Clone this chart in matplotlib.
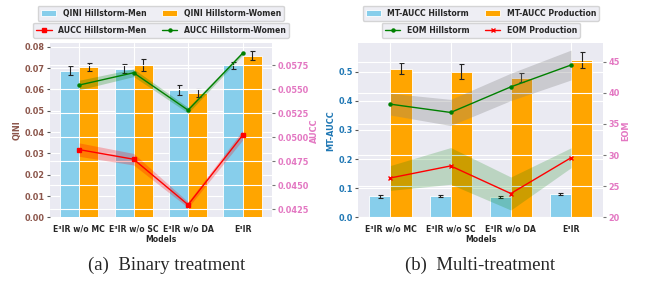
import matplotlib
matplotlib.use('Agg')
import matplotlib.pyplot as plt
import numpy as np
import seaborn as sns

sns.set_style('darkgrid')
plt.rcParams['font.family'] = ['DejaVu Sans']

models = ['E³IR w/o MC', 'E³IR w/o SC', 'E³IR w/o DA', 'E³IR']

# (a) Binary treatment
qini_men = [0.0687, 0.0697, 0.0597, 0.0712]
qini_men_err = [0.0021, 0.0021, 0.0022, 0.0018]
qini_women = [0.0703, 0.0716, 0.0584, 0.0758]
qini_women_err = [0.0019, 0.0028, 0.0018, 0.0020]
aucc_men = [0.04871, 0.04771, 0.04298, 0.05020]
aucc_men_std = [0.0007, 0.0006, 0.0003, 0.0005]
aucc_women = [0.05542, 0.05670, 0.05281, 0.05872]
aucc_women_std = [0.0005, 0.0004, 0.0003, 0.0002]

# (b) Multi-treatment
mt_hill = [0.0719, 0.0726, 0.0685, 0.0800]
mt_hill_err = [0.004, 0.003, 0.003, 0.004]
mt_prod = [0.509, 0.500, 0.479, 0.540]
mt_prod_err = [0.019, 0.027, 0.016, 0.028]
eom_hill = [38.18, 36.85, 40.96, 44.47]
eom_hill_std = [1.75, 2.1, 2.2, 2.4]
eom_prod = [26.33, 28.26, 23.83, 29.57]
eom_prod_std = [2.0, 2.95, 2.65, 1.6]

fig = plt.figure(figsize=(6.5, 2.83), dpi=100)
axL = fig.add_axes([0.0769, 0.232, 0.418 - 0.0769, 0.847 - 0.232])
axR = fig.add_axes([0.5512, 0.232, 0.928 - 0.5512, 0.847 - 0.232])

fs = 5.9
xfs = 5.6
lfs = 5.6
x = np.arange(len(models))
w = 0.35
ekw = dict(ecolor='#222222', elinewidth=0.8, capsize=1.8, capthick=0.8)


def style_axes(ax, ax2, lcol, rcol, llabel, rlabel):
    ax.tick_params(axis='y', left=True, length=2.5, width=0.8, color='#555555',
                   labelsize=fs, labelcolor=lcol, pad=1.5)
    ax.tick_params(axis='x', labelsize=xfs, pad=2)
    for t in ax.get_yticklabels() + ax.get_xticklabels():
        t.set_fontweight('bold')
    ax2.tick_params(axis='y', right=True, length=2.5, width=0.8, color='#777777',
                    labelsize=fs, labelcolor=rcol, pad=1.5)
    for t in ax2.get_yticklabels():
        t.set_fontweight('bold')
    ax.set_ylabel(llabel, color=lcol, fontsize=fs, fontweight='bold', labelpad=2)
    ax2.set_ylabel(rlabel, color=rcol, fontsize=fs, fontweight='bold', labelpad=1)
    ax.set_xlabel('Models', fontsize=xfs, fontweight='bold', labelpad=1)
    for s in list(ax.spines.values()) + list(ax2.spines.values()):
        s.set_visible(False)


# ---- left
axL.bar(x - w / 2, qini_men, w, yerr=qini_men_err, color='skyblue', edgecolor='white',
        linewidth=0.6, error_kw=ekw, label='QINI Hillstorm-Men')
axL.bar(x + w / 2, qini_women, w, yerr=qini_women_err, color='orange', edgecolor='white',
        linewidth=0.6, error_kw=ekw, label='QINI Hillstorm-Women')
axL.set_xticks(x)
axL.set_xticklabels(models)
axL.set_ylim(0, 0.0816)
axL.set_yticks(np.arange(0, 0.081, 0.01))
axL.yaxis.set_major_formatter(matplotlib.ticker.FormatStrFormatter('%.2f'))
axL2 = axL.twinx()
am = np.array(aucc_men); ams = np.array(aucc_men_std)
aw = np.array(aucc_women); aws = np.array(aucc_women_std)
axL2.plot(x, am, color='red', marker='s', markersize=2.2, linewidth=1.0, label='AUCC Hillstorm-Men')
axL2.fill_between(x, am - ams, am + ams, color='red', alpha=0.25, linewidth=0)
axL2.plot(x, aw, color='green', marker='o', markersize=2.2, linewidth=1.0, label='AUCC Hillstorm-Women')
axL2.fill_between(x, aw - aws, aw + aws, color='green', alpha=0.25, linewidth=0)
axL2.set_ylim(0.04167, 0.05976)
axL2.set_yticks([0.0425, 0.0450, 0.0475, 0.0500, 0.0525, 0.0550, 0.0575])
axL2.yaxis.set_major_formatter(matplotlib.ticker.FormatStrFormatter('%.4f'))
style_axes(axL, axL2, '#8c564b', '#e377c2', 'QINI', 'AUCC')

# ---- right
axR.bar(x - w / 2, mt_hill, w, yerr=mt_hill_err, color='skyblue', edgecolor='white',
        linewidth=0.6, error_kw=ekw, label='MT-AUCC Hillstorm')
axR.bar(x + w / 2, mt_prod, w, yerr=mt_prod_err, color='orange', edgecolor='white',
        linewidth=0.6, error_kw=ekw, label='MT-AUCC Production')
axR.set_xticks(x)
axR.set_xticklabels(models)
axR.set_ylim(0, 0.597)
axR.set_yticks([0.0, 0.1, 0.2, 0.3, 0.4, 0.5])
axR.yaxis.set_major_formatter(matplotlib.ticker.FormatStrFormatter('%.1f'))
axR2 = axR.twinx()
eh = np.array(eom_hill); ehs = np.array(eom_hill_std)
ep = np.array(eom_prod); eps = np.array(eom_prod_std)
axR2.plot(x, eh, color='green', marker='o', markersize=2.2, linewidth=1.0, label='EOM Hillstorm')
axR2.fill_between(x, eh - ehs, eh + ehs, color='gray', alpha=0.3, linewidth=0)
axR2.plot(x, ep, color='red', marker='x', markersize=2.2, linewidth=1.0, label='EOM Production')
axR2.fill_between(x, ep - eps, ep + eps, color='green', alpha=0.2, linewidth=0)
axR2.set_ylim(20.1, 47.96)
axR2.set_yticks([20, 25, 30, 35, 40, 45])
style_axes(axR, axR2, '#1f77b4', '#e377c2', 'MT-AUCC', 'EOM')

# legends
leg_kw = dict(fontsize=lfs, frameon=True, loc='lower center', borderaxespad=0,
              bbox_transform=fig.transFigure, handlelength=2.0, columnspacing=2.0,
              borderpad=0.4, handletextpad=0.8, fancybox=True)
for ax, ax2, cx in [(axL, axL2, 0.2475), (axR, axR2, 0.7397)]:
    h1, l1 = ax.get_legend_handles_labels()
    h2, l2 = ax2.get_legend_handles_labels()
    lg1 = ax2.legend(h1, l1, ncol=2, bbox_to_anchor=(cx, 0.926), **leg_kw)
    for t in lg1.get_texts():
        t.set_fontweight('bold')
    ax2.add_artist(lg1)
    lg2 = ax2.legend(h2, l2, ncol=2, bbox_to_anchor=(cx, 0.866), **leg_kw)
    for t in lg2.get_texts():
        t.set_fontweight('bold')

fig.text(0.256, 0.062, '(a)  Binary treatment', ha='center', va='center',
         fontsize=13.5, family='Liberation Serif')
fig.text(0.738, 0.062, '(b)  Multi-treatment', ha='center', va='center',
         fontsize=13.5, family='Liberation Serif')

fig.savefig('out.png', dpi=100)
